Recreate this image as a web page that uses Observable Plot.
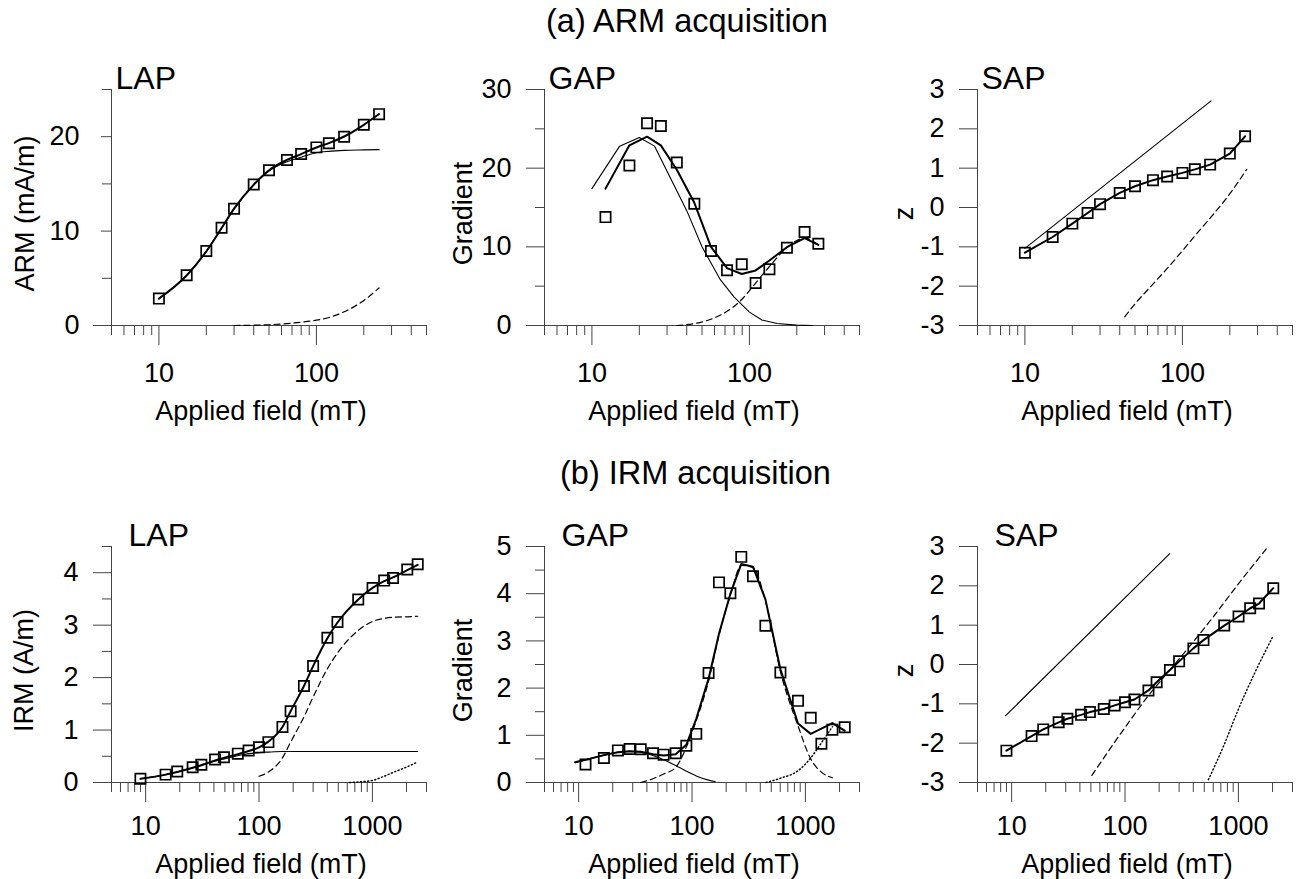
<!DOCTYPE html>
<html>
<head>
<meta charset="utf-8">
<script src="https://cdn.jsdelivr.net/npm/d3@7"></script>
<script src="https://cdn.jsdelivr.net/npm/@observablehq/plot@0.6"></script>
<style>
  body { margin: 0; background: #fff; }
  #wrap { position: relative; width: 1298px; height: 879px; overflow: hidden;
          font-family: 'Liberation Sans', Arial, Helvetica, sans-serif; color: #000; }
  .title { position: absolute; font-size: 32.5px; line-height: 31px; white-space: nowrap; }
  .panel { position: absolute; width: 432px; }
</style>
</head>
<body>
<div id="wrap">
  <div class="title" style="left:546px; top:6px;">(a) ARM acquisition</div>
  <div class="title" style="left:560px; top:458px;">(b) IRM acquisition</div>
</div>
<script>
// ---------- tick values ----------
const xMajorA = [10, 100];
const xMinorA = [5, 6, 7, 8, 9, 20, 30, 40, 50, 60, 70, 80, 90, 200, 300, 400, 500];
const xMajorB = [10, 100, 1000];
const xMinorB = [5, 6, 7, 8, 9, 20, 30, 40, 50, 60, 70, 80, 90, 200, 300, 400, 500, 600, 700, 800, 900, 2000, 3000];
const xLabel = "Applied field (mT)";

// ---------- (a) ARM acquisition ----------
const armField = [10, 15, 20, 25, 30, 40, 50, 65, 80, 100, 120, 150, 200, 250];
const armMoment = [2.85, 5.32, 7.89, 10.35, 12.36, 14.93, 16.44, 17.54, 18.17, 18.87, 19.30, 20.0, 21.27, 22.39];
const armLapTotal = [2.85, 5.3, 7.86, 10.32, 12.38, 14.92, 16.45, 17.54, 18.16, 18.86, 19.32, 20.02, 21.26, 22.4];
const armLapComp1 = [2.85, 5.3, 7.86, 10.32, 12.36, 14.88, 16.36, 17.34, 17.82, 18.3, 18.45, 18.55, 18.6, 18.63];
const armLapComp2Field = [30, 40, 50, 65, 80, 100, 120, 150, 200, 250];
const armLapComp2 = [0, 0.03, 0.08, 0.2, 0.35, 0.56, 0.85, 1.45, 2.65, 3.98];

const armMid = [12.2, 17.3, 22.4, 27.4, 34.6, 44.7, 57, 72.1, 89.4, 109.5, 134, 173, 224, 274];
const armGradient = [13.78, 20.34, 25.71, 25.37, 20.72, 15.48, 9.47, 7.02, 7.78, 5.41, 7.15, 9.89, 11.88, 10.40];
const armGapTotal = [17.4, 22.9, 24.0, 22.9, 19.8, 15.6, 10.0, 7.3, 6.55, 7.0, 8.26, 9.95, 11.1, 10.25];
const armGapComp1 = [17.4, 22.8, 23.9, 22.8, 19.6, 14.6, 10.0, 5.9, 3.6, 1.7, 0.7, 0.25, 0.05, 0];
const armGapComp2Mid = [34.6, 44.7, 57, 72.1, 89.4, 109.5, 134, 173, 224, 274];
const armGapComp2 = [0, 0.25, 0.8, 1.8, 3.3, 5.4, 7.5, 9.9, 11.1, 10.25];

const armZ = [-1.15, -0.75, -0.41, -0.14, 0.085, 0.37, 0.54, 0.695, 0.79, 0.88, 0.97, 1.09, 1.37, 1.81];
const armSapTotal = [-1.15, -0.75, -0.41, -0.14, 0.085, 0.37, 0.54, 0.695, 0.79, 0.88, 0.97, 1.09, 1.37, 1.81];
const armSapComp1Field = [10, 152];
const armSapComp1 = [-1.04, 2.71];
const armSapComp2Field = [43, 50, 65, 80, 100, 120, 150, 200, 256];
const armSapComp2 = [-2.78, -2.45, -1.95, -1.55, -1.1, -0.72, -0.27, 0.35, 0.97];

// ---------- (b) IRM acquisition ----------
const irmField = [9, 15, 19, 26, 31, 41, 49, 65, 81, 100, 121, 161, 190, 249, 300, 401, 492, 750, 1003, 1270, 1520, 2030, 2510];
const irmMoment = [0.07, 0.15, 0.21, 0.29, 0.34, 0.44, 0.48, 0.55, 0.61, 0.67, 0.77, 1.06, 1.36, 1.84, 2.22, 2.76, 3.06, 3.49, 3.71, 3.85, 3.90, 4.06, 4.16];
const irmLapTotal = [0.07, 0.15, 0.2, 0.28, 0.33, 0.42, 0.47, 0.54, 0.6, 0.67, 0.78, 1.06, 1.36, 1.84, 2.22, 2.75, 3.05, 3.49, 3.71, 3.84, 3.91, 4.05, 4.15];
const irmLapComp1 = [0.07, 0.15, 0.2, 0.28, 0.33, 0.41, 0.45, 0.51, 0.55, 0.57, 0.58, 0.59, 0.59, 0.59, 0.59, 0.59, 0.59, 0.59, 0.59, 0.59, 0.59, 0.59, 0.59];
const irmLapComp2Field = [100, 121, 161, 190, 249, 300, 401, 492, 750, 1003, 1270, 1520, 2030, 2510];
const irmLapComp2 = [0.12, 0.2, 0.47, 0.77, 1.25, 1.63, 2.17, 2.47, 2.9, 3.07, 3.13, 3.15, 3.16, 3.17];
const irmLapComp3Field = [630, 750, 1003, 1270, 1520, 2030, 2510];
const irmLapComp3 = [0, 0.01, 0.04, 0.12, 0.19, 0.3, 0.39];

const irmMid = [11.5, 16.7, 22.2, 28.2, 35.3, 45.3, 56.2, 71.8, 89.1, 109, 140, 173, 218, 272, 345, 444, 602, 861, 1114, 1384, 1730, 2221];
const irmGradient = [0.38, 0.52, 0.68, 0.71, 0.705, 0.62, 0.59, 0.62, 0.78, 1.03, 2.32, 4.24, 4.01, 4.78, 4.37, 3.32, 2.33, 1.73, 1.37, 0.82, 1.12, 1.17];
const irmGapTotalField = [9.3, 11.5, 16.7, 22.2, 28.2, 35.3, 45.3, 56.2, 71.8, 89.1, 109, 140, 173, 218, 272, 345, 444, 602, 861, 1114, 1384, 1730, 2221];
const irmGapTotal = [0.43, 0.48, 0.58, 0.64, 0.66, 0.65, 0.6, 0.57, 0.6, 0.8, 1.35, 2.2, 3.15, 4.0, 4.63, 4.57, 3.88, 2.4, 1.25, 1.03, 1.14, 1.26, 1.1];
const irmGapComp1Field = [9.3, 11.5, 16.7, 22.2, 28.2, 35.3, 45.3, 56.2, 71.8, 89.1, 109, 140, 160];
const irmGapComp1 = [0.42, 0.48, 0.58, 0.64, 0.66, 0.64, 0.57, 0.48, 0.36, 0.24, 0.14, 0.05, 0.02];
const irmGapComp2Field = [35.3, 45.3, 56.2, 71.8, 89.1, 109, 140, 173, 218, 272, 345, 444, 602, 861, 1114, 1384, 1730];
const irmGapComp2 = [0, 0.08, 0.18, 0.32, 0.75, 1.31, 2.15, 3.12, 3.97, 4.6, 4.55, 3.85, 2.35, 1.2, 0.5, 0.22, 0.1];
const irmGapComp3Field = [450, 602, 861, 1114, 1384, 1730];
const irmGapComp3 = [0, 0.09, 0.25, 0.52, 0.84, 1.18];

const irmZ = [-2.19, -1.82, -1.65, -1.47, -1.38, -1.28, -1.21, -1.13, -1.04, -0.96, -0.89, -0.66, -0.45, -0.14, 0.08, 0.41, 0.62, 0.99, 1.22, 1.43, 1.55, 1.94];
const irmSapTotal = [-2.19, -1.82, -1.65, -1.47, -1.38, -1.28, -1.21, -1.13, -1.04, -0.96, -0.89, -0.66, -0.45, -0.14, 0.08, 0.41, 0.62, 0.99, 1.22, 1.43, 1.55, 1.94];
const irmSapComp1Field = [8.85, 248];
const irmSapComp1 = [-1.30, 2.82];
const irmSapComp2Field = [51, 79, 111, 157, 220, 308, 549, 1000, 1830];
const irmSapComp2 = [-2.82, -2.02, -1.42, -0.83, -0.32, 0.18, 1.07, 2.05, 3.0];
const irmSapComp3Field = [543, 746, 979, 1374, 1995];
const irmSapComp3 = [-2.93, -2.05, -1.2, -0.25, 0.69];

// ---------- helpers ----------
const rows = {
  a: {top: 40, height: 385, marginBottom: 100, xDomain: [5, 500], xMajor: xMajorA, xMinor: xMinorA, xPad: 17, xLabelDy: 94, titleDx: 4},
  b: {top: 497, height: 381, marginBottom: 96, xDomain: [5, 3000], xMajor: xMajorB, xMinor: xMinorB, xPad: 13, xLabelDy: 90, titleDx: 17}
};
const colLeft = [0, 433, 866];
const AX = "#444";

const thick = {strokeWidth: 2};
const thin = {strokeWidth: 1.1};
const dashed = {strokeWidth: 1.2, strokeDasharray: "6,4"};
const dotted = {strokeWidth: 1.4, strokeDasharray: "1.2,2.4"};

const pts = (xs, ys) => ys.map((y, i) => ({x: xs[i], y}));
const line = (xs, ys, style, curve = "linear") =>
  Plot.line(pts(xs, ys), {x: "x", y: "y", stroke: "black", fill: "none", curve, ...style});
const squares = (xs, ys) =>
  Plot.dot(pts(xs, ys), {x: "x", y: "y", symbol: "square", r: 5.8, stroke: "black", strokeWidth: 1.7, fill: "none"});

function makePanel(p) {
  const r = rows[p.row];
  const marks = [
    Plot.frame({anchor: "left", stroke: AX}),
    Plot.frame({anchor: "bottom", stroke: AX}),
    Plot.axisY({ticks: p.yMajor, tickSize: p.yTickSize ?? 18, tickPadding: p.yTickPad ?? 15,
                tickFormat: d => String(d), stroke: AX, fill: "black", label: null}),
    Plot.axisX({ticks: r.xMajor, tickSize: 20, tickPadding: r.xPad,
                tickFormat: d => String(d), stroke: AX, fill: "black", label: null}),
    Plot.axisX({ticks: r.xMinor, tickSize: 10, tickFormat: () => "", stroke: AX, label: null}),
    Plot.text([xLabel], {text: d => d, frameAnchor: "bottom", textAnchor: "middle", dx: -8, dy: r.xLabelDy,
                         lineAnchor: "bottom", fontSize: 27}),
    Plot.text([p.yLabel], {text: d => d, frameAnchor: "left", textAnchor: "middle", rotate: -90,
                           dx: p.yLabelDx, dy: 6, fontSize: 27}),
    Plot.text([p.title], {text: d => d, frameAnchor: "top-left", textAnchor: "start", lineAnchor: "bottom",
                          dx: r.titleDx, dy: -1, fontSize: 32})
  ];
  if (p.yMinor && p.yMinor.length)
    marks.push(Plot.axisY({ticks: p.yMinor, tickSize: 9, tickFormat: () => "", stroke: AX, label: null}));
  if (p.yExtra)
    marks.push(Plot.axisY({ticks: p.yExtra, tickSize: 18, tickFormat: () => "", stroke: AX, label: null}));
  marks.push(...p.marks);
  const chart = Plot.plot({
    width: 432, height: r.height,
    marginLeft: 111, marginRight: 6, marginTop: 49, marginBottom: r.marginBottom,
    style: {fontFamily: "'Liberation Sans', Arial, Helvetica, sans-serif", fontSize: "27px",
            color: "black", background: "white", overflow: "visible"},
    x: {type: "log", domain: r.xDomain},
    y: {domain: p.yDomain},
    marks
  });
  const div = document.createElement("div");
  div.className = "panel";
  div.style.left = colLeft[p.col] + "px";
  div.style.top = r.top + "px";
  div.appendChild(chart);
  document.getElementById("wrap").appendChild(div);
}

// ---------- panels ----------
makePanel({row: "a", col: 0, title: "LAP", yLabel: "ARM (mA/m)", yLabelDx: -86,
  yDomain: [0, 25], yMajor: [0, 10, 20], yMinor: [5, 15, 25], yTickSize: 10, yTickPad: 22, yExtra: [0],
  marks: [
    line(armLapComp2Field, armLapComp2, dashed, "monotone-x"),
    line(armField, armLapComp1, thin, "monotone-x"),
    line(armField, armLapTotal, thick, "monotone-x"),
    squares(armField, armMoment)
  ]});

makePanel({row: "a", col: 1, title: "GAP", yLabel: "Gradient", yLabelDx: -81,
  yDomain: [0, 30], yMajor: [0, 10, 20, 30], yMinor: [5, 15, 25],
  marks: [
    line(armGapComp2Mid, armGapComp2, dashed, "monotone-x"),
    line(armField, armGapComp1, thin),
    line(armMid, armGapTotal, thick),
    squares(armMid, armGradient)
  ]});

makePanel({row: "a", col: 2, title: "SAP", yLabel: "z", yLabelDx: -73,
  yDomain: [-3, 3], yMajor: [-3, -2, -1, 0, 1, 2, 3], yMinor: [],
  marks: [
    line(armSapComp2Field, armSapComp2, dashed, "monotone-x"),
    line(armSapComp1Field, armSapComp1, thin),
    line(armField, armSapTotal, thick),
    squares(armField, armZ)
  ]});

makePanel({row: "b", col: 0, title: "LAP", yLabel: "IRM (A/m)", yLabelDx: -87,
  yDomain: [0, 4.5], yMajor: [0, 1, 2, 3, 4], yMinor: [0.5, 1.5, 2.5, 3.5, 4.5],
  marks: [
    line(irmLapComp3Field, irmLapComp3, dotted, "monotone-x"),
    line(irmLapComp2Field, irmLapComp2, dashed, "monotone-x"),
    line(irmField, irmLapComp1, thin, "monotone-x"),
    line(irmField, irmLapTotal, thick, "monotone-x"),
    squares(irmField, irmMoment)
  ]});

makePanel({row: "b", col: 1, title: "GAP", yLabel: "Gradient", yLabelDx: -81,
  yDomain: [0, 5], yMajor: [0, 1, 2, 3, 4, 5], yMinor: [0.5, 1.5, 2.5, 3.5, 4.5],
  marks: [
    line(irmGapComp3Field, irmGapComp3, dotted, "monotone-x"),
    line(irmGapComp2Field, irmGapComp2, dashed, "monotone-x"),
    line(irmGapComp1Field, irmGapComp1, thin, "monotone-x"),
    line(irmGapTotalField, irmGapTotal, thick),
    squares(irmMid, irmGradient)
  ]});

makePanel({row: "b", col: 2, title: "SAP", yLabel: "z", yLabelDx: -73,
  yDomain: [-3, 3], yMajor: [-3, -2, -1, 0, 1, 2, 3], yMinor: [],
  marks: [
    line(irmSapComp3Field, irmSapComp3, dotted, "monotone-x"),
    line(irmSapComp2Field, irmSapComp2, dashed, "monotone-x"),
    line(irmSapComp1Field, irmSapComp1, thin),
    line(irmField.slice(0, irmSapTotal.length), irmSapTotal, thick),
    squares(irmField.slice(0, irmZ.length), irmZ)
  ]});
</script>
</body>
</html>
